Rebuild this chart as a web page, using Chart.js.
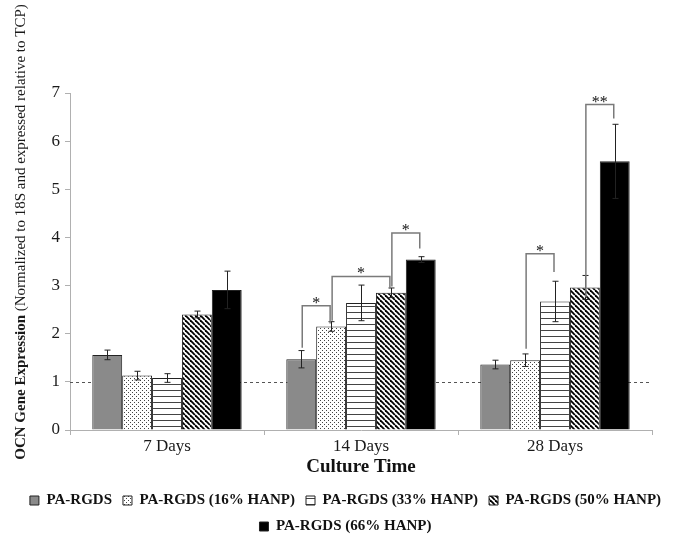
<!DOCTYPE html>
<html>
<head>
<meta charset="utf-8">
<script src="https://cdn.jsdelivr.net/npm/chart.js@4/dist/chart.umd.min.js"></script>
<style>
  html, body { margin: 0; padding: 0; background: #fff; }
  #wrap { width: 675px; height: 547px; }
</style>
</head>
<body>
<div id="wrap"><canvas id="grafico"></canvas></div>
<script>
// dados
const categorias = ['7 Days', '14 Days', '28 Days'];
const series = ['PA-RGDS', 'PA-RGDS (16% HANP)', 'PA-RGDS (33% HANP)', 'PA-RGDS (50% HANP)', 'PA-RGDS (66% HANP)'];

const valRGDS = [1.56, 1.47, 1.36];
const val16 = [1.13, 2.15, 1.45];
const val33 = [1.08, 2.64, 2.67];
const val50 = [2.40, 2.85, 2.96];
const val66 = [2.91, 3.54, 5.58];

const errRGDS = [0.10, 0.18, 0.09];
const err16 = [0.09, 0.10, 0.13];
const err33 = [0.09, 0.37, 0.42];
const err50 = [0.07, 0.10, 0.25];
const err66 = [0.39, 0.06, 0.77];

const yTicks = [0, 1, 2, 3, 4, 5, 6, 7];
const linhaRef = 1; // linha tracejada (TCP)

// colchetes de significancia
const chCategoria = [1, 1, 1, 2, 2];
const chDe = [0, 1, 3, 1, 3];
const chPara = [1, 3, 4, 2, 4];
const chEsq = [1.71, 2.27, 2.98, 1.69, 2.76];
const chTopo = [2.58, 3.19, 4.09, 3.66, 6.76];
const chDir = [2.21, 2.94, 3.77, 3.28, 6.47];
const chMarca = ['*', '*', '*', '*', '**'];

const valores = [valRGDS, val16, val33, val50, val66];
const erros = [errRGDS, err16, err33, err50, err66];

const FONTE = "'Liberation Serif', 'Times New Roman', serif";

// padroes de preenchimento
function padrao(tipo) {
  const c = document.createElement('canvas');
  const t = tipo === 'linhas' ? 6 : (tipo === 'diag' ? 5 : 4);
  c.width = t; c.height = t;
  const g = c.getContext('2d');
  g.fillStyle = '#fff';
  g.fillRect(0, 0, t, t);
  if (tipo === 'pontos') {
    g.fillStyle = '#444';
    g.fillRect(0, 0, 1, 1);
    g.fillRect(2, 2, 1, 1);
  } else if (tipo === 'linhas') {
    g.fillStyle = '#444';
    g.fillRect(0, 0, t, 1);
  } else if (tipo === 'diag') {
    g.strokeStyle = '#000';
    g.lineWidth = 1.8;
    [-t, 0, t].forEach(o => {
      g.beginPath();
      g.moveTo(o, 0);
      g.lineTo(o + t, t);
      g.stroke();
    });
  }
  return g.createPattern(c, 'repeat');
}

const cores = ['#8a8a8a', padrao('pontos'), padrao('linhas'), padrao('diag'), '#000'];

// plugin: linha tracejada, barras de erro, colchetes e titulo do eixo y
const extras = {
  id: 'extras',
  beforeDatasetsDraw(chart) {
    const { ctx, chartArea, scales: { y } } = chart;
    const py = Math.round(y.getPixelForValue(linhaRef)) + 0.5;
    ctx.save();
    ctx.strokeStyle = '#555';
    ctx.lineWidth = 1;
    ctx.setLineDash([3, 3]);
    ctx.beginPath();
    ctx.moveTo(chartArea.left, py);
    ctx.lineTo(chartArea.right, py);
    ctx.stroke();
    ctx.restore();
  },
  afterDatasetsDraw(chart) {
    const { ctx, scales: { y } } = chart;
    ctx.save();
    // barras de erro
    ctx.strokeStyle = '#222';
    ctx.lineWidth = 1;
    valores.forEach((serie, si) => {
      const meta = chart.getDatasetMeta(si);
      meta.data.forEach((bar, ci) => {
        const v = serie[ci], e = erros[si][ci];
        const x = Math.round(bar.x) + 0.5;
        const yt = y.getPixelForValue(v + e), yb = y.getPixelForValue(v - e);
        ctx.beginPath();
        ctx.moveTo(x, yt); ctx.lineTo(x, yb);
        ctx.moveTo(x - 3, yt); ctx.lineTo(x + 3, yt);
        ctx.moveTo(x - 3, yb); ctx.lineTo(x + 3, yb);
        ctx.stroke();
      });
    });
    // colchetes
    ctx.strokeStyle = '#7a7a7a';
    ctx.lineWidth = 1.5;
    ctx.fillStyle = '#111';
    ctx.font = '16px ' + FONTE;
    ctx.textAlign = 'center';
    ctx.textBaseline = 'alphabetic';
    chCategoria.forEach((ci, i) => {
      const x1 = chart.getDatasetMeta(chDe[i]).data[ci].x + 1;
      const x2 = chart.getDatasetMeta(chPara[i]).data[ci].x - 1;
      const yt = y.getPixelForValue(chTopo[i]);
      ctx.beginPath();
      ctx.moveTo(x1, y.getPixelForValue(chEsq[i]));
      ctx.lineTo(x1, yt);
      ctx.lineTo(x2, yt);
      ctx.lineTo(x2, y.getPixelForValue(chDir[i]));
      ctx.stroke();
      ctx.fillText(chMarca[i], (x1 + x2) / 2, yt + 2);
    });
    ctx.restore();
  },
  afterDraw(chart) {
    const ctx = chart.ctx;
    const negrito = 'OCN Gene Expression';
    const normal = ' (Normalized to 18S and expressed relative to TCP)';
    ctx.save();
    ctx.translate(25, 232);
    ctx.rotate(-Math.PI / 2);
    ctx.fillStyle = '#1a1a1a';
    ctx.textBaseline = 'alphabetic';
    ctx.textAlign = 'left';
    ctx.font = 'bold 15px ' + FONTE;
    const w1 = ctx.measureText(negrito).width;
    ctx.font = '15px ' + FONTE;
    const w2 = ctx.measureText(normal).width;
    const x0 = -(w1 + w2) / 2;
    ctx.font = 'bold 15px ' + FONTE;
    ctx.fillText(negrito, x0, 0);
    ctx.font = '15px ' + FONTE;
    ctx.fillText(normal, x0 + w1, 0);
    ctx.restore();
  }
};

const ctx = document.getElementById('grafico').getContext('2d');

const grafico = new Chart(ctx, {
  type: 'bar',
  data: {
    labels: categorias,
    datasets: series.map((nome, i) => ({
      label: nome,
      data: valores[i],
      backgroundColor: cores[i],
      borderColor: '#222',
      borderWidth: 1
    }))
  },
  options: {
    responsive: true,
    maintainAspectRatio: false,
    animation: false,
    layout: { padding: { top: 93, right: 0, left: 16, bottom: 3 } },
    datasets: {
      bar: { categoryPercentage: 0.77, barPercentage: 1.0 }
    },
    scales: {
      x: {
        afterFit: (s) => { s.height = 52; },
        grid: { drawOnChartArea: false, color: '#b0b0b0', tickLength: 5, offset: true },
        border: { color: '#b0b0b0' },
        ticks: { color: '#1a1a1a', font: { family: FONTE, size: 17 }, padding: 1 },
        title: {
          display: true,
          text: 'Culture Time',
          color: '#111',
          font: { family: FONTE, size: 19, weight: 'bold' },
          padding: { top: 0, bottom: 4 }
        }
      },
      y: {
        min: 0,
        max: 7,
        afterFit: (s) => { s.width = 54; },
        afterBuildTicks: (s) => { s.ticks = yTicks.map(v => ({ value: v })); },
        grid: { drawOnChartArea: false, color: '#b0b0b0', tickLength: 5 },
        border: { color: '#b0b0b0' },
        ticks: { color: '#1a1a1a', font: { family: FONTE, size: 17 }, padding: 5 }
      },
      // eixo vazio a direita so para reservar a margem
      yDir: {
        position: 'right',
        min: 0,
        max: 7,
        afterFit: (s) => { s.width = 23; },
        grid: { display: false, drawTicks: false },
        border: { display: false },
        ticks: { display: false }
      }
    },
    plugins: {
      legend: {
        position: 'bottom',
        labels: {
          boxWidth: 9,
          boxHeight: 9,
          padding: 11,
          color: '#111',
          font: { family: FONTE, size: 15, weight: 'bold' }
        }
      },
      tooltip: { enabled: false }
    }
  },
  plugins: [extras]
});
</script>
</body>
</html>
